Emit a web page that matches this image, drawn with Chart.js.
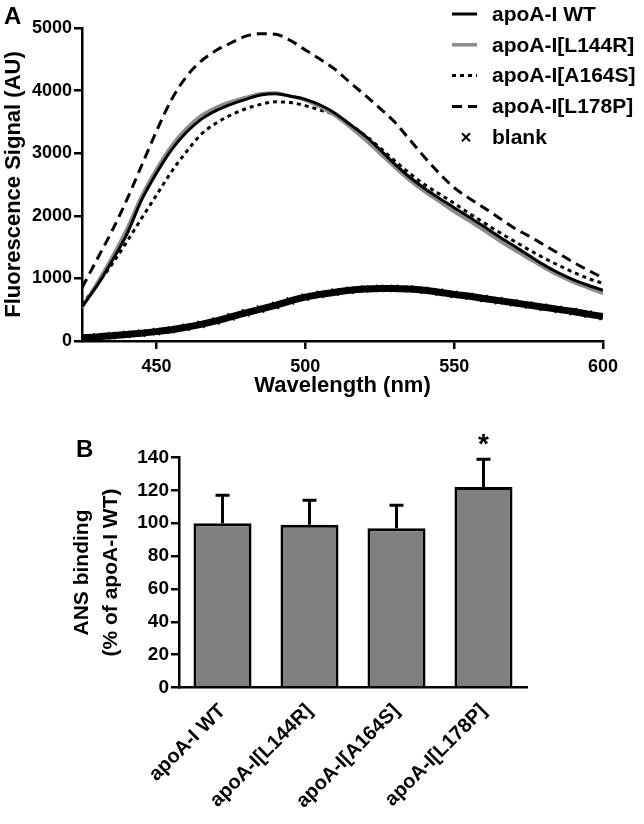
<!DOCTYPE html>
<html lang="en">
<head>
  <meta charset="UTF-8">
  <title>ANS fluorescence of apoA-I variants</title>
  <script src="https://cdn.jsdelivr.net/npm/chart.js"></script>
  <style>
    body { margin: 0; background: #fff; font-family: "Liberation Sans", Arial, sans-serif; }
    .panel { position: absolute; left: 0; width: 644px; }
    #panelA { top: 0; height: 400px; }
    #panelB { top: 400px; height: 424px; }
    .letter { position: absolute; font-weight: bold; font-size: 24px; line-height: 1; color: #000; }
  </style>
</head>
<body>
  <div class="panel" id="panelA"><canvas id="spectraChart"></canvas></div>
  <div class="panel" id="panelB"><canvas id="bindingChart"></canvas></div>
  <div class="letter" style="left:4px;top:4px">A</div>
  <div class="letter" style="left:76px;top:437px">B</div>

  <script>
    // panel A: emission spectra, read every 5 nm
    const wavelengths = [425, 430, 435, 440, 445, 450, 455, 460, 465, 470, 475, 480, 485, 490, 495, 500, 505, 510,
      515, 520, 525, 530, 535, 540, 545, 550, 555, 560, 565, 570, 575, 580, 585, 590, 595, 600];
    const wtSignal = [550, 880, 1270, 1700, 2250, 2680, 3050, 3330, 3540, 3680, 3780, 3860, 3930, 3950, 3910, 3860, 3770, 3640,
      3460, 3280, 3060, 2830, 2620, 2440, 2280, 2130, 1980, 1830, 1670, 1520, 1370, 1220, 1090, 980, 890, 810];
    const l144rSignal = [530, 920, 1330, 1780, 2310, 2740, 3110, 3390, 3600, 3730, 3820, 3890, 3950, 3960, 3910, 3850, 3740, 3600,
      3420, 3220, 3000, 2780, 2570, 2390, 2230, 2070, 1920, 1770, 1610, 1460, 1320, 1180, 1050, 940, 850, 760];
    const a164sSignal = [580, 900, 1220, 1580, 1960, 2330, 2700, 3020, 3300, 3480, 3610, 3710, 3780, 3820, 3810, 3760, 3690, 3610,
      3460, 3290, 3090, 2880, 2680, 2500, 2350, 2200, 2040, 1890, 1740, 1600, 1460, 1330, 1210, 1100, 1000, 920];
    const l178pSignal = [850, 1300, 1750, 2250, 2800, 3350, 3850, 4220, 4470, 4640, 4760, 4870, 4910, 4900, 4800, 4650, 4500, 4340,
      4130, 3930, 3720, 3500, 3220, 2940, 2680, 2450, 2280, 2130, 1970, 1810, 1680, 1540, 1400, 1260, 1130, 1010];
    const blankSignal = [50, 65, 85, 105, 125, 150, 180, 220, 265, 320, 385, 450, 510, 570, 640, 700, 745, 780,
      810, 830, 840, 840, 830, 810, 780, 745, 715, 680, 645, 610, 575, 540, 505, 470, 430, 390];
    const wavelengthTicks = [450, 500, 550, 600];

    // panel B: ANS binding
    const variants = ["apoA-I WT", "apoA-I[L144R]", "apoA-I[A164S]", "apoA-I[L178P]"];
    const ansBinding = [100, 99, 97, 122];
    const ansError = [17, 15, 14, 17];
    const significance = ["", "", "", "*"];

    const fontFamily = "'Liberation Sans', Arial, sans-serif";
    Chart.defaults.font.family = fontFamily;
    Chart.defaults.color = "#000";

    const toPoints = values => wavelengths.map((w, i) => ({ x: w, y: values[i] }));
    const plainNumber = v => String(v);

    // legend drawn at the top right like the original figure
    const spectraLegend = {
      id: "spectraLegend",
      afterDraw(chart) {
        const ctx = chart.ctx;
        ctx.save();
        ctx.font = "bold 21px " + fontFamily;
        ctx.textBaseline = "middle";
        ctx.fillStyle = "#000";
        chart.data.datasets.forEach((ds, i) => {
          const y = 14 + i * 30.8;
          ctx.strokeStyle = ds.borderColor;
          if (ds.pointStyle === "crossRot") {
            ctx.lineWidth = 2;
            ctx.setLineDash([]);
            ctx.beginPath();
            ctx.moveTo(462, y - 4); ctx.lineTo(470, y + 4);
            ctx.moveTo(470, y - 4); ctx.lineTo(462, y + 4);
            ctx.stroke();
          } else {
            ctx.lineWidth = ds.borderWidth;
            ctx.setLineDash(ds.borderDash || []);
            ctx.beginPath();
            ctx.moveTo(452, y); ctx.lineTo(477, y);
            ctx.stroke();
          }
          ctx.setLineDash([]);
          ctx.fillText(ds.label, 492, y + 1);
        });
        ctx.restore();
      }
    };

    const axisGrid = { drawOnChartArea: false, drawTicks: true, color: "#000", tickColor: "#000", lineWidth: 2.5, tickWidth: 2.5, tickLength: 8 };

    new Chart(document.getElementById("spectraChart"), {
      type: "line",
      data: {
        datasets: [
          { label: "apoA-I WT", data: toPoints(wtSignal), borderColor: "#000", borderWidth: 3, pointRadius: 0, cubicInterpolationMode: "monotone" },
          { label: "apoA-I[L144R]", data: toPoints(l144rSignal), borderColor: "#8c8c8c", borderWidth: 3.5, pointRadius: 0, cubicInterpolationMode: "monotone" },
          { label: "apoA-I[A164S]", data: toPoints(a164sSignal), borderColor: "#000", borderWidth: 3, borderDash: [4, 4], pointRadius: 0, cubicInterpolationMode: "monotone" },
          { label: "apoA-I[L178P]", data: toPoints(l178pSignal), borderColor: "#000", borderWidth: 3, borderDash: [10, 6], pointRadius: 0, cubicInterpolationMode: "monotone" },
          { label: "blank", data: toPoints(blankSignal), borderColor: "#000", borderWidth: 7, pointStyle: "crossRot",
            pointRadius: 5, pointBorderWidth: 1.5, pointBorderColor: "#000", cubicInterpolationMode: "monotone" }
        ]
      },
      options: {
        responsive: true,
        maintainAspectRatio: false,
        animation: false,
        layout: { padding: { top: 28, right: 41, left: 0, bottom: 0 } },
        plugins: { legend: { display: false }, tooltip: { enabled: false } },
        scales: {
          x: {
            type: "linear",
            min: 425,
            max: 600,
            afterBuildTicks: s => { s.ticks = wavelengthTicks.map(v => ({ value: v })); },
            afterFit: s => { s.height = 59; },
            border: { color: "#000", width: 2.5 },
            grid: axisGrid,
            ticks: { font: { size: 18, weight: "bold" }, padding: 7, maxRotation: 0, callback: plainNumber },
            title: { display: true, text: "Wavelength (nm)", font: { size: 22, weight: "bold" }, padding: { top: 0, bottom: 1 } }
          },
          y: {
            min: 0,
            max: 5000,
            afterFit: s => { s.width = 82; },
            border: { color: "#000", width: 2.5 },
            grid: axisGrid,
            ticks: { stepSize: 1000, font: { size: 18, weight: "bold" }, padding: 2, callback: plainNumber },
            title: { display: true, text: "Fluorescence Signal (AU)", font: { size: 22, weight: "bold" }, padding: { top: 1, bottom: 0 } }
          }
        }
      },
      plugins: [spectraLegend]
    });

    // upper error whisker plus significance mark
    const errorBars = {
      id: "errorBars",
      afterDatasetsDraw(chart) {
        const ctx = chart.ctx;
        const y = chart.scales.y;
        const meta = chart.getDatasetMeta(0);
        ctx.save();
        ctx.strokeStyle = "#000";
        ctx.lineWidth = 3;
        meta.data.forEach((bar, i) => {
          const top = y.getPixelForValue(ansBinding[i] + ansError[i]);
          ctx.beginPath();
          ctx.moveTo(bar.x, bar.y);
          ctx.lineTo(bar.x, top);
          ctx.moveTo(bar.x - 7, top);
          ctx.lineTo(bar.x + 7, top);
          ctx.stroke();
          if (significance[i]) {
            ctx.fillStyle = "#000";
            ctx.font = "bold 28px " + fontFamily;
            ctx.textAlign = "center";
            ctx.textBaseline = "alphabetic";
            ctx.fillText(significance[i], bar.x, top - 6);
          }
        });
        ctx.restore();
      }
    };

    new Chart(document.getElementById("bindingChart"), {
      type: "bar",
      data: {
        labels: variants,
        datasets: [{
          data: ansBinding,
          backgroundColor: "#808080",
          borderColor: "#000",
          borderWidth: 3,
          barPercentage: 0.667,
          categoryPercentage: 1
        }]
      },
      options: {
        responsive: true,
        maintainAspectRatio: false,
        animation: false,
        layout: { padding: { top: 57.5, right: 117, left: 0, bottom: 0 } },
        plugins: { legend: { display: false }, tooltip: { enabled: false } },
        scales: {
          x: {
            afterFit: s => { s.height = 136.5; },
            border: { color: "#000", width: 2.5 },
            grid: { display: false, drawTicks: false },
            ticks: { minRotation: 45, maxRotation: 45, font: { size: 20, weight: "bold" }, padding: 12 }
          },
          y: {
            min: 0,
            max: 140,
            afterFit: s => { s.width = 179; },
            border: { color: "#000", width: 2.5 },
            grid: axisGrid,
            ticks: { stepSize: 20, font: { size: 19, weight: "bold" }, padding: 2 },
            title: {
              display: true,
              text: ["ANS binding", "(% of apoA-I WT)"],
              font: { size: 21, weight: "bold", lineHeight: 1.38 },
              padding: { top: 68, bottom: 0 }
            }
          }
        }
      },
      plugins: [errorBars]
    });
  </script>
</body>
</html>
